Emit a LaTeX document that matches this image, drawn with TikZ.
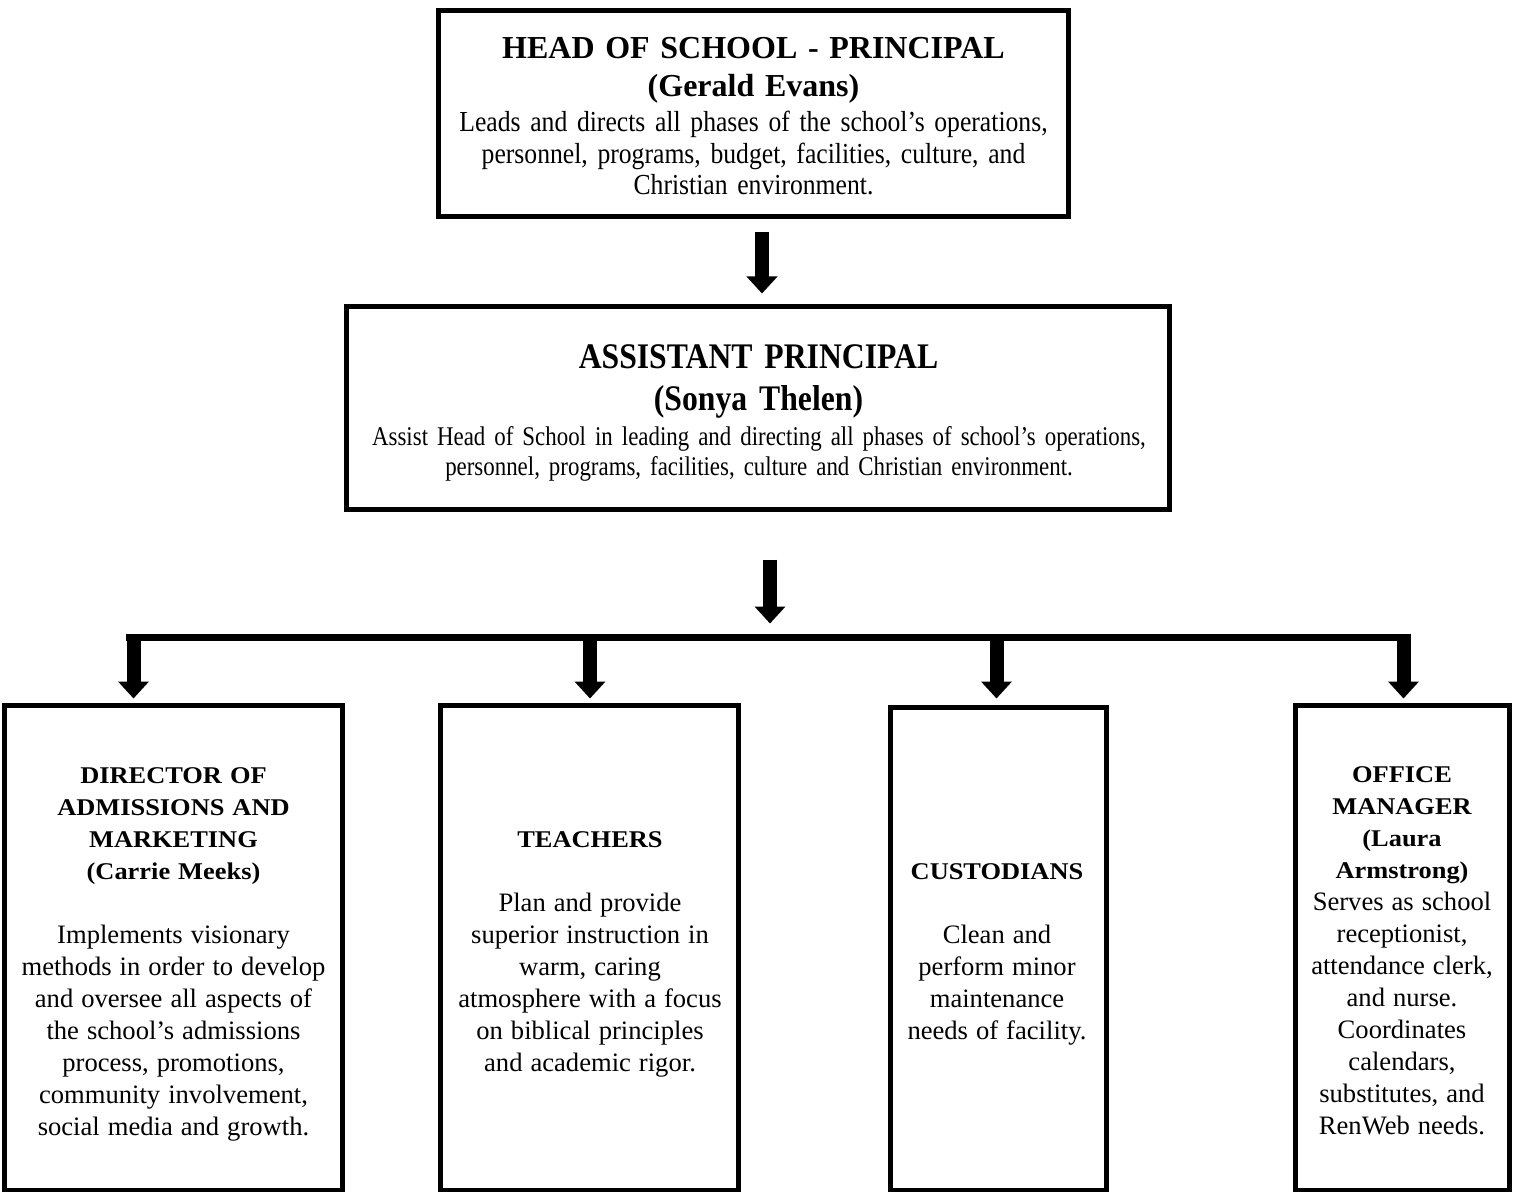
\documentclass[tikz,border=0pt]{standalone}
\usepackage{fontspec}
\setmainfont{Liberation Serif}
\newfontfamily\headbodyfam[FakeStretch=0.885]{Liberation Serif}
\newfontfamily\asstitlefam[FakeStretch=0.88]{Liberation Serif}
\newfontfamily\asstbodyfam[FakeStretch=0.848]{Liberation Serif}
\newfontfamily\boxtitlefam[FakeStretch=1.1]{Liberation Serif}
\usetikzlibrary{arrows.meta,calc}
\newcommand\bodyswitch{\normalfont\fontsize{13.3pt}{16pt}\selectfont}
\tikzset{
  box/.style={draw, line width=2.5pt, inner sep=0pt, minimum width=#1},
  txt/.style={anchor=base, inner sep=0pt, align=center, text width=#1},
  fat/.style={line width=7pt, -{Triangle[width=15pt,length=8.5pt]}},
  bar/.style={line width=3.5pt},
  headtitle/.style={font=\fontsize{16pt}{19pt}\selectfont\bfseries},
  headbody/.style={font=\headbodyfam\fontsize{14.5pt}{15.75pt}\selectfont},
  asstitle/.style={font=\asstitlefam\fontsize{18pt}{21pt}\selectfont\bfseries},
  assbody/.style={font=\asstbodyfam\fontsize{13.5pt}{15pt}\selectfont},
  lowtitle/.style={font=\boxtitlefam\fontsize{12pt}{16pt}\selectfont\bfseries},
}
\begin{document}
\begin{tikzpicture}[x=0.5pt,y=-0.5pt]
\useasboundingbox (0,0) rectangle (1520,1192);
% boxes
\node[box=315pt, minimum height=103.25pt] (hb) at (753.5,113.75) {};
\node[box=411.5pt, minimum height=101.5pt] (ab) at (758,408) {};
\node[box=169pt, minimum height=242.25pt] (b1) at (173.5,947.75) {};
\node[box=149pt, minimum height=242.25pt] (b2) at (589.5,947.75) {};
\node[box=108pt, minimum height=241.25pt] (b3) at (998.5,948.75) {};
\node[box=107pt, minimum height=242.25pt] (b4) at (1402.5,947.75) {};
% texts
\node[txt=300pt, headtitle] (hbt) at (753.5,59) {HEAD OF SCHOOL - PRINCIPAL\\(Gerald Evans)};
\node[txt=310pt, headbody] (hbd) at (753.5,132) {Leads and directs all phases of the school’s operations,\\personnel, programs, budget, facilities, culture, and\\Christian environment.};
\node[txt=400pt, asstitle] (abt) at (758.5,369) {ASSISTANT PRINCIPAL\\(Sonya Thelen)};
\node[txt=405pt, assbody] (abd) at (759,445) {Assist Head of School in leading and directing all phases of school’s operations,\\personnel, programs, facilities, culture and Christian environment.};
\node[txt=165pt, lowtitle] (b1t) at (173.5,783) {DIRECTOR OF\\ADMISSIONS AND\\MARKETING\\(Carrie Meeks)\\[16pt]\bodyswitch Implements visionary\\methods in order to develop\\and oversee all aspects of\\the school’s admissions\\process, promotions,\\community involvement,\\social media and growth.};
\node[txt=145pt, lowtitle] (b2t) at (590,847) {TEACHERS\\[16pt]\bodyswitch Plan and provide\\superior instruction in\\warm, caring\\atmosphere with a focus\\on biblical principles\\and academic rigor.};
\node[txt=105pt, lowtitle] (b3t) at (997,879) {CUSTODIANS\\[16pt]\bodyswitch Clean and\\perform minor\\maintenance\\needs of facility.};
\node[txt=105pt, lowtitle] (b4t) at (1402,782) {OFFICE\\MANAGER\\(Laura\\Armstrong)\\\bodyswitch Serves as school\\receptionist,\\attendance clerk,\\and nurse.\\Coordinates\\calendars,\\substitutes, and\\RenWeb needs.};
% connectors
\draw[fat] ($(hb.south)+(8.5,13)$) -- ($(ab.north)+(4,-10.5)$);
\draw[fat] ($(ab.south)+(12,47.5)$) coordinate (a2s) -- ($(ab.south)+(12,111.5)$) coordinate (a2e);
\coordinate (j1) at (133.5,637.5);
\coordinate (j2) at (590,637.5);
\coordinate (j3) at (996.5,637.5);
\coordinate (j4) at (1403.5,637.5);
\draw[bar] ($(j1)+(-7.5,0)$) -- ($(j4)+(7.5,0)$);
\draw[fat] ($(j1)+(0,-3.5)$) -- ($(j1 |- b1.north)+(0,-4.5)$);
\draw[fat] ($(j2)+(0,-3.5)$) -- ($(j2 |- b2.north)+(0,-4.5)$);
\draw[fat] ($(j3)+(0,-3.5)$) -- ($(j3 |- b3.north)+(0,-6.5)$);
\draw[fat] ($(j4)+(0,-3.5)$) -- ($(j4 |- b4.north)+(0,-4.5)$);
\end{tikzpicture}
\end{document}
